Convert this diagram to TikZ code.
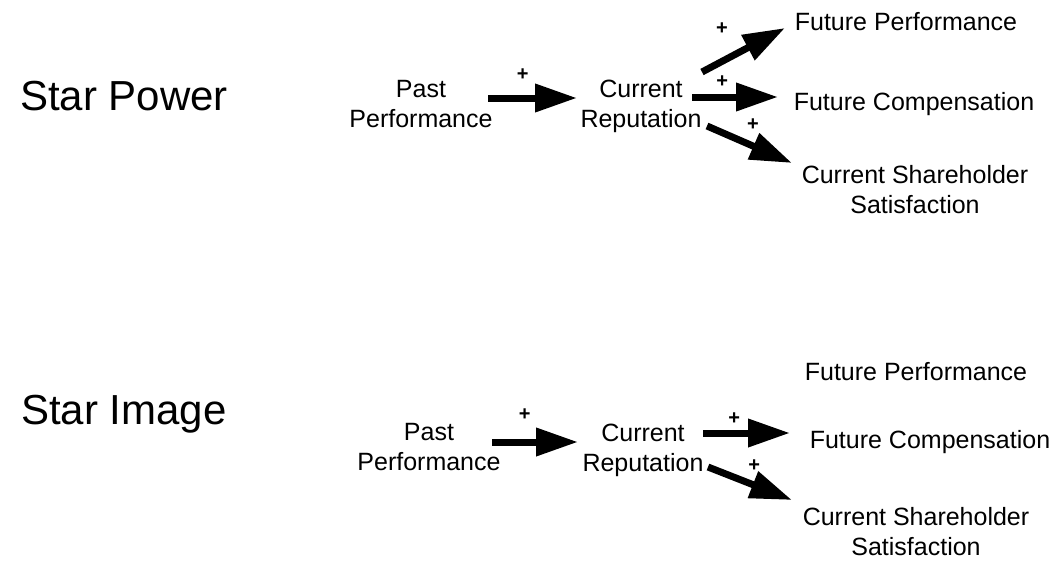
\documentclass[tikz,border=0pt]{standalone}
\usepackage{fontspec}
\setmainfont{Liberation Sans}
\usepackage{tikz}
\usetikzlibrary{positioning}
\usetikzlibrary{arrows.meta}

\begin{document}
\begin{tikzpicture}[x=1pt, y=-1pt,
  main/.style = {anchor=base, align=center, inner sep=0pt, font=\fontsize{25}{30}\selectfont},
  star/.style = {anchor=base, inner sep=0pt, font=\fontsize{42}{48}\selectfont},
  arr/.style = {line width=7pt, -{Triangle[length=42pt, width=27pt]}},
  sgn/.style = {inner sep=0pt, font=\bfseries\fontsize{20}{20}\selectfont}]
\useasboundingbox (0,0) rectangle (1062,560);
% star power
\node[star] (star1) at (124,110) {Star Power};
\node[main] (past1) at (421,127) {Past\\Performance};
\node[main] (cur1) at (641,127) {Current\\Reputation};
\node[main] (fp1) at (906,30) {Future Performance};
\node[main] (fc1) at (914,110) {Future Compensation};
\node[main] (cs1) at (915,213) {Current Shareholder\\Satisfaction};
\draw[arr] ([shift={(67,-29)}]past1.base) -- node[sgn, pos=.39, yshift=23pt] {+} ([shift={(-64,-29)}]cur1.base);
\draw[arr] ([shift={(61,-55)}]cur1.base) -- node[sgn, pos=.24, yshift=33pt] {+} ([shift={(-121,-2)}]fp1.base);
\draw[arr] ([shift={(51,-30)}]cur1.base) -- node[sgn, pos=.35, yshift=15pt] {+} ([shift={(-136,-13)}]fc1.base);
\draw[arr] ([shift={(66,-1)}]cur1.base) -- node[sgn, pos=.54, yshift=21pt] {+} ([shift={(-123,-50)}]cs1.base);
% star image
\node[star] (star2) at (124,424) {Star Image};
\node[main] (past2) at (429,470) {Past\\Performance};
\node[main] (cur2) at (643,471) {Current\\Reputation};
\node[main] (fp2) at (916,380) {Future Performance};
\node[main] (fc2) at (930,448) {Future Compensation};
\node[main] (cs2) at (916,555) {Current Shareholder\\Satisfaction};
\draw[arr] ([shift={(63,-28)}]past2.base) -- node[sgn, pos=.38, yshift=27pt] {+} ([shift={(-65,-29)}]cur2.base);
\draw[arr] ([shift={(60,-38)}]cur2.base) -- node[sgn, pos=.36, yshift=14pt] {+} ([shift={(-140,-15)}]fc2.base);
\draw[arr] ([shift={(65,-4)}]cur2.base) -- node[sgn, pos=.55, yshift=20pt] {+} ([shift={(-124,-55)}]cs2.base);
\end{tikzpicture}
\end{document}
